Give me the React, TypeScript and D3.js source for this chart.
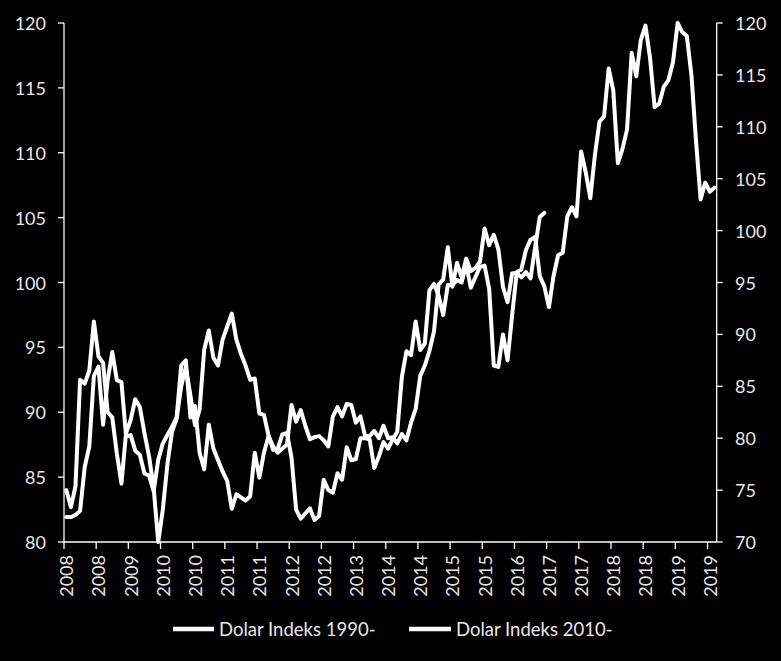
import React from 'react';
import * as d3 from 'd3';

const W = 781;
const H = 661;

const seriesNames = ['Dolar Indeks 1990-', 'Dolar Indeks 2010-'];
const leftTicks = [80, 85, 90, 95, 100, 105, 110, 115, 120];
const rightTicks = [70, 75, 80, 85, 90, 95, 100, 105, 110, 115, 120];
const xTickLabels = ['2008', '2008', '2009', '2010', '2010', '2011', '2011', '2012', '2012', '2013', '2014',
  '2014', '2015', '2015', '2016', '2017', '2017', '2018', '2018', '2019', '2019'];
const categoryCount = 142;
const labelEvery = 7;

// Dolar Indeks 1990- (left axis), monthly
const dolar1990 = [
  84.0, 82.7, 84.3, 92.5, 92.2, 93.2, 97.0, 94.3, 93.8, 90.0,
  89.6, 86.8, 84.5, 88.4, 89.4, 91.0, 90.4, 88.4, 86.6, 84.2,
  80.0, 82.5, 86.0, 88.5, 89.5, 92.0, 93.5, 91.3, 89.0, 90.2,
  94.8, 96.3, 94.2, 93.6, 95.6, 96.6, 97.6, 95.6, 94.5, 93.6,
  92.5, 92.6, 89.9, 89.8, 88.2, 87.1, 87.2, 88.3, 88.4, 86.5,
  82.5, 81.8, 82.2, 82.6, 81.7, 82.0, 84.8, 84.0, 83.8, 85.3,
  84.8, 87.3, 86.3, 86.4, 88.0, 88.0, 87.9, 85.7, 86.6, 87.7,
  87.2, 87.9, 88.5, 92.7, 94.7, 94.4, 97.0, 94.8, 95.3, 99.4,
  99.9, 99.0, 97.5, 99.8, 99.8, 100.2, 100.0, 101.4, 99.6, 100.4,
  101.2, 101.3, 99.5, 93.6, 93.5, 96.0, 94.0, 97.5, 100.8, 101.0,
  102.5, 103.3, 103.5, 100.5, 99.7, 98.1, 100.5, 102.1, 102.3, 105.1,
  105.8, 105.1, 110.1, 108.5, 106.5, 109.8, 112.4, 112.8, 116.5, 114.8,
  109.2, 110.3, 111.8, 117.7, 115.9, 118.7, 119.8, 117.3, 113.5, 113.8,
  115.1, 115.6, 117.0, 120.0, 119.3, 119.0, 116.0, 110.9, 106.4, 107.7,
  107.0, 107.3,
];

// Dolar Indeks 2010- (right axis), monthly
const dolar2010 = [
  72.4, 72.4, 72.6, 73.0, 77.2, 79.2, 86.0, 86.9, 81.3, 85.6,
  88.3, 85.6, 85.4, 80.2, 80.3, 78.8, 78.4, 76.6, 76.4, 74.9,
  77.9, 79.5, 80.3, 81.1, 82.0, 87.0, 87.5, 82.0, 83.1, 78.6,
  77.0, 81.3, 79.0, 77.9, 76.8, 75.9, 73.2, 74.6, 74.3, 74.0,
  74.4, 78.6, 76.2, 78.6, 80.2, 79.2, 78.6, 79.0, 79.4, 83.2,
  81.6, 82.7, 81.2, 79.9, 80.1, 80.2, 79.8, 79.2, 82.1, 83.0,
  82.1, 83.3, 83.2, 81.5, 82.1, 80.2, 80.2, 80.7, 80.0, 81.2,
  80.0, 80.1, 79.5, 80.4, 79.8, 81.5, 82.8, 86.0, 87.0, 88.4,
  90.3, 94.8, 95.3, 98.4, 94.6, 96.9, 95.5, 97.3, 96.1, 96.4,
  97.0, 100.2, 98.6, 99.6, 98.2, 94.6, 93.1, 95.9, 95.9, 95.5,
  96.0, 95.4, 98.4, 101.3, 101.7,
];

const FONT = 'Lato, "Open Sans", sans-serif';
const TEXT = '#e8e8e8';

export default function App() {
  const left = 64;
  const right = 716.7;
  const top = 23;
  const bottom = 542;

  const x = d3.scaleLinear().domain([0, categoryCount]).range([left, right]);
  const yL = d3.scaleLinear().domain([80, 120]).range([bottom, top]);
  const yR = d3.scaleLinear().domain([70, 120]).range([bottom, top]);

  const lineL = d3.line<number>().x((_, i) => x(i + 0.5)).y((d) => yL(Math.max(80, Math.min(120, d))));
  const lineR = d3.line<number>().x((_, i) => x(i + 0.5)).y((d) => yR(Math.max(70, Math.min(120, d))));

  const tickIdx = d3.range(xTickLabels.length);
  const legendY = 629;

  return (
    <div style={{ position: 'absolute', left: 0, top: 0, width: W, height: H, background: '#000' }}>
      <svg width={W} height={H} style={{ display: 'block', background: '#000' }} fontFamily={FONT}>
        <rect x={0} y={0} width={W} height={H} fill="#000" />
        {/* series */}
        <path d={lineL(dolar1990) || ''} fill="none" stroke="#fff" strokeWidth={4} strokeLinejoin="round" strokeLinecap="round" />
        <path d={lineR(dolar2010) || ''} fill="none" stroke="#fff" strokeWidth={4} strokeLinejoin="round" strokeLinecap="round" />

        {/* left axis */}
        <line x1={left} x2={left} y1={top} y2={bottom} stroke="#fff" strokeWidth={1.3} />
        {leftTicks.map((t) => (
          <g key={'l' + t}>
            <line x1={left - 6} x2={left} y1={yL(t)} y2={yL(t)} stroke="#fff" strokeWidth={1.3} />
            <text x={46} y={yL(t)} textAnchor="end" dominantBaseline="central" fontSize={18} fill={TEXT}>{t}</text>
          </g>
        ))}

        {/* right axis */}
        <line x1={right} x2={right} y1={top} y2={bottom} stroke="#fff" strokeWidth={1.3} />
        {rightTicks.map((t) => (
          <g key={'r' + t}>
            <line x1={right} x2={right + 6} y1={yR(t)} y2={yR(t)} stroke="#fff" strokeWidth={1.3} />
            <text x={735} y={yR(t)} textAnchor="start" dominantBaseline="central" fontSize={18} fill={TEXT}>{t}</text>
          </g>
        ))}

        {/* x axis */}
        <line x1={left} x2={right} y1={bottom} y2={bottom} stroke="#fff" strokeWidth={1.3} />
        {tickIdx.map((k) => (
          <line key={'xt' + k} x1={x(k * labelEvery)} x2={x(k * labelEvery)} y1={bottom} y2={bottom + 7} stroke="#fff" strokeWidth={1.3} />
        ))}
        {xTickLabels.map((lab, k) => {
          const cx = x(k * labelEvery + 0.5);
          return (
            <text key={'xl' + k} transform={`translate(${cx},${bottom + 13}) rotate(-90)`} textAnchor="end"
              dominantBaseline="central" fontSize={18} fill={TEXT}>{lab}</text>
          );
        })}

        {/* legend */}
        <line x1={173} x2={214} y1={legendY} y2={legendY} stroke="#fff" strokeWidth={4.5} />
        <text x={219} y={legendY} dominantBaseline="central" fontSize={18.5} fill={TEXT}>{seriesNames[0]}</text>
        <line x1={409} x2={451} y1={legendY} y2={legendY} stroke="#fff" strokeWidth={4.5} />
        <text x={456} y={legendY} dominantBaseline="central" fontSize={18.5} fill={TEXT}>{seriesNames[1]}</text>
      </svg>
    </div>
  );
}
